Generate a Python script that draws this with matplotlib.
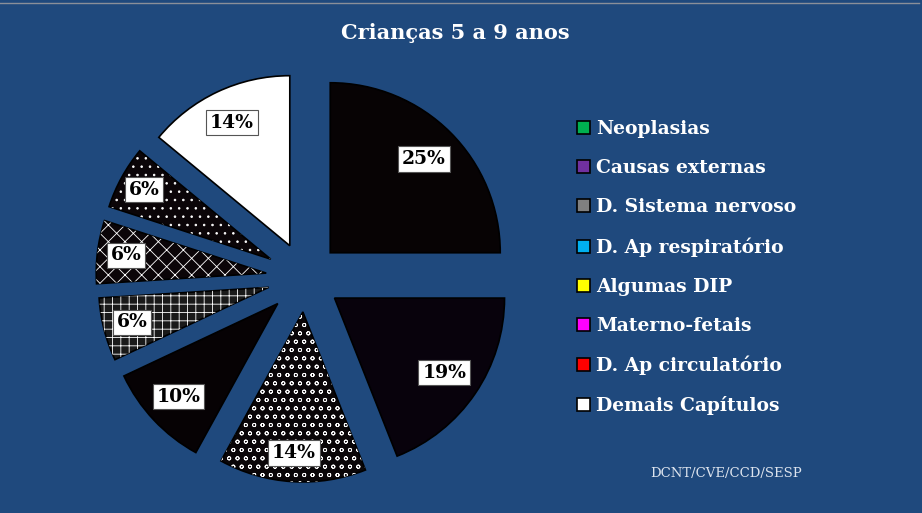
import numpy as np
import matplotlib.pyplot as plt
from matplotlib.patches import Patch
from matplotlib.lines import Line2D

# data
categories = ["Neoplasias", "Causas externas", "D. Sistema nervoso", "D. Ap respiratório",
              "Algumas DIP", "Materno-fetais", "D. Ap circulatório", "Demais Capítulos"]
values = [25, 19, 14, 10, 6, 6, 6, 14]
legend_colors = ["#00b050", "#7030a0", "#808080", "#00b0f0",
                 "#ffff00", "#ff00ff", "#ff0000", "#ffffff"]

# printed look of the slices (dark textures)
face_colors = ["#070304", "#08020c", "#0a0608", "#060204",
               "#1a1a1a", "#0b0508", "#0b0508", "#ffffff"]
hatches = [None, None, "oo", None, "++", "xx", "..", None]
explode = [0.21, 0.21, 0.2, 0.22, 0.22, 0.23, 0.23, 0.21]
label_dist = [0.78, 0.78, 0.83, 0.8, 0.83, 0.83, 0.85, 0.8]

BG = "#1f497d"
SERIF = "DejaVu Serif"
plt.rcParams["hatch.linewidth"] = 0.6

fig = plt.figure(figsize=(9.22, 5.13), dpi=100)
fig.patch.set_facecolor(BG)
ax = fig.add_axes([0, 0, 1, 1])
ax.set_facecolor(BG)

wedges, texts, autotexts = ax.pie(
    values, explode=explode, colors=face_colors, startangle=90, counterclock=False,
    radius=1.0, autopct=lambda p: f"{p:.0f}%", pctdistance=0.78,
    wedgeprops=dict(edgecolor="black", linewidth=1.2),
    textprops=dict(family=SERIF, fontweight="bold", fontsize=13.5, color="black"))

# white texture overlay
overlay, _ = ax.pie(values, explode=explode, startangle=90, counterclock=False, radius=1.0,
                    wedgeprops=dict(facecolor="none", edgecolor="white", linewidth=0))
for w, h in zip(overlay, hatches):
    if h:
        w.set_hatch(h)
    else:
        w.set_visible(False)

# boxed percentage labels, pushed out a bit on the thin slices
for w, t, d in zip(wedges, autotexts, label_dist):
    a = np.deg2rad((w.theta1 + w.theta2) / 2)
    t.set_position((w.center[0] + d * w.r * np.cos(a), w.center[1] + d * w.r * np.sin(a)))
    t.set_bbox(dict(facecolor="white", edgecolor="#555555", linewidth=0.8, boxstyle="square,pad=0.2"))

# data units -> pixels: pie centre near (305, 278), radius 170 px
R = 170
cx, cy = 305, 278
ax.set_xlim(-cx / R, (922 - cx) / R)
ax.set_ylim(-(513 - cy) / R, cy / R)
ax.set_aspect("auto")
ax.axis("off")

handles = [Patch(facecolor=c, edgecolor="black", linewidth=1.2) for c in legend_colors]
leg = fig.legend(handles, categories, loc="upper left", bbox_to_anchor=(568 / 922, 1 - 111 / 513),
                 frameon=False, borderpad=0, labelspacing=1.12, handlelength=0.68,
                 handleheight=0.68, handletextpad=0.3,
                 prop=dict(family=SERIF, weight="bold", size=13.5))
for t in leg.get_texts():
    t.set_color("white")

fig.text(455 / 922, 1 - 33 / 513, "Crianças 5 a 9 anos", ha="center", va="center",
         color="white", fontsize=15, fontweight="bold", family=SERIF)
fig.text(726 / 922, 1 - 473 / 513, "DCNT/CVE/CCD/SESP", ha="center", va="center",
         color="#dde4ee", fontsize=9.5, family=SERIF)

fig.add_artist(Line2D([0, 0.997], [0.995, 0.995], color="#8a8f99", linewidth=1))

fig.savefig("out.png", dpi=100, facecolor=BG)
